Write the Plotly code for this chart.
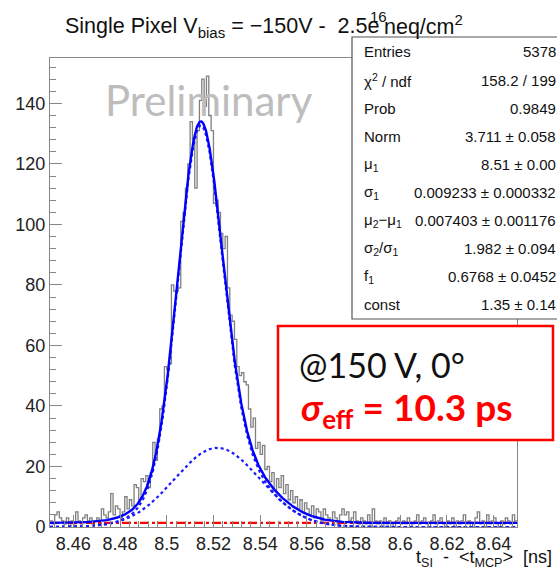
import numpy as np
import plotly.graph_objects as go

# ---- histogram: counts per 1 ps bin, 8.45 .. 8.65 ns ----
x_lo, x_hi, n_bins = 8.45, 8.65, 200
counts = [
    2, 1, 4, 5, 3, 2, 1, 3, 0, 2,
    1, 5, 2, 1, 3, 4, 2, 3, 1, 2,
    3, 2, 6, 4, 3, 5, 11, 4, 7, 6,
    3, 5, 10, 6, 9, 7, 14, 13, 9, 16,
    15, 17, 13, 18, 28, 22, 29, 39, 40, 53,
    52, 54, 80, 78, 78, 79, 101, 104, 112, 120,
    134, 128, 112, 131, 141, 148, 139, 149, 136, 131,
    107, 108, 104, 97, 92, 96, 79, 70, 68, 62,
    53, 50, 51, 48, 47, 39, 33, 36, 26, 28,
    24, 27, 19, 20, 15, 18, 12, 16, 13, 17,
    11, 14, 9, 12, 8, 10, 6, 9, 5, 8,
    6, 4, 7, 3, 6, 5, 2, 6, 4, 3,
    2, 5, 3, 1, 4, 6, 4, 5, 2, 3,
    5, 2, 1, 3, 2, 1, 4, 0, 6, 2,
    1, 2, 0, 3, 1, 2, 1, 0, 2, 3,
    1, 2, 1, 3, 0, 1, 2, 4, 1, 2,
    3, 1, 0, 2, 4, 1, 2, 3, 1, 0,
    2, 1, 3, 0, 2, 1, 2, 4, 1, 2,
    0, 1, 3, 5, 1, 2, 0, 4, 1, 2,
    3, 1, 0, 2, 1, 3, 2, 1, 4, 2,
]

# ---- double-Gaussian fit parameters (value, error) ----
entries = 5378
chi2, ndf, prob = 158.2, 199, 0.9849
norm, norm_err = 3.711, 0.058
mu1, mu1_err = 8.5142, 0.0004
sigma1, sigma1_err = 0.009233, 0.000332
dmu, dmu_err = 0.007403, 0.001176
ratio, ratio_err = 1.982, 0.094
f1, f1_err = 0.6768, 0.0452
const, const_err = 1.35, 0.14

# title pieces (the exponent is set over the "e", TLatex style)
title_left = "Single Pixel V<sub>bias</sub> = \u2212150V -  2.5e"
title_exp = "16"
title_right = "neq/cm<sup>2</sup>"
xaxis_text = "t<sub>SI</sub>  -  &lt;t<sub>MCP</sub>&gt;  [ns]"
result_line1 = "@150 V, 0\u00b0"
result_line2 = "<b><i>\u03c3</i><sub>eff</sub> = 10.3 ps</b>"
watermark = "Preliminary"


def gauss(x, mu, sig):
    return np.exp(-0.5 * ((x - mu) / sig) ** 2) / (sig * np.sqrt(2 * np.pi))


xs = np.linspace(x_lo, x_hi, 1601)
mu2 = mu1 + dmu
sigma2 = sigma1 * ratio
comp1 = norm * f1 * gauss(xs, mu1, sigma1)
comp2 = norm * (1 - f1) * gauss(xs, mu2, sigma2)
signal = comp1 + comp2
total = signal + const

edges = np.linspace(x_lo, x_hi, n_bins + 1)
step_y = list(counts) + [counts[-1]]

fig = go.Figure()
fig.add_trace(go.Scatter(x=edges, y=step_y, mode="lines", line_shape="hv",
                         line=dict(color="#808080", width=1.3), hoverinfo="skip"))
fig.add_trace(go.Scatter(x=xs, y=np.full_like(xs, const), mode="lines",
                         line=dict(color="#ff0000", width=2.2, dash="dashdot")))
fig.add_trace(go.Scatter(x=xs, y=signal, mode="lines",
                         line=dict(color="#1a1aff", width=2.2, dash="dot")))
fig.add_trace(go.Scatter(x=xs, y=comp2, mode="lines",
                         line=dict(color="#1a1aff", width=2.2, dash="dot")))
fig.add_trace(go.Scatter(x=xs, y=total, mode="lines",
                         line=dict(color="#0000ff", width=2.4)))

W, H = 557, 572
L, R, T, B = 50, 40, 58, 45


def px(x):
    return (x - L) / (W - L - R)


def py(y):
    return (H - B - y) / (H - T - B)


title_font = dict(family="Liberation Sans", size=21.5, color="#111")
ann = []
# title
ann.append(dict(text=title_left, x=px(381), y=py(12), xanchor="right", yanchor="top",
                font=title_font))
ann.append(dict(text=title_right, x=px(382), y=py(25), xanchor="left", yanchor="middle",
                font=title_font))
ann.append(dict(text=title_exp, x=px(378), y=py(17), xanchor="center", yanchor="middle",
                font=dict(family="Liberation Sans", size=15, color="#111")))
# x axis title
ann.append(dict(text=xaxis_text, x=px(554), y=py(545), xanchor="right", yanchor="top",
                font=dict(family="Liberation Sans", size=18, color="#111")))
# watermark
ann.append(dict(text=watermark, x=px(209), y=py(100), xanchor="center", yanchor="middle",
                font=dict(family="Lato", size=42, color="#bdbdbd")))

# stats box rows
stats_rows = [
    ("Entries", f"{entries}"),
    ("\u03c7<sup>2</sup> / ndf", f"{chi2:.1f} / {ndf}"),
    ("Prob", f"{prob:.4f}"),
    ("Norm", f"{norm:.3f} \u00b1 {norm_err:.3f}"),
    ("\u03bc<sub>1</sub>", f"{mu1:.2f} \u00b1 {mu1_err:.2f}"),
    ("\u03c3<sub>1</sub>", f"{sigma1:.6f} \u00b1 {sigma1_err:.6f}"),
    ("\u03bc<sub>2</sub>\u2212\u03bc<sub>1</sub>", f"{dmu:.6f} \u00b1 {dmu_err:.6f}"),
    ("\u03c3<sub>2</sub>/\u03c3<sub>1</sub>", f"{ratio:.3f} \u00b1 {ratio_err:.3f}"),
    ("f<sub>1</sub>", f"{f1:.4f} \u00b1 {f1_err:.4f}"),
    ("const", f"{const:.2f} \u00b1 {const_err:.2f}"),
]
row0, row_step = 52, 28.1
for k, (lab, val) in enumerate(stats_rows):
    yy = row0 + k * row_step
    ann.append(dict(text=lab, x=px(362), y=py(yy), xanchor="left", yanchor="middle",
                    font=dict(family="Liberation Sans", size=15, color="#111")))
    ann.append(dict(text=val, x=px(558), y=py(yy), xanchor="right", yanchor="middle",
                    font=dict(family="Liberation Sans", size=15, color="#111")))

# result box text
ann.append(dict(text=result_line1, x=px(297), y=py(364), xanchor="left", yanchor="middle",
                font=dict(family="Lato", size=34, color="#111")))
ann.append(dict(text=result_line2, x=px(299), y=py(409), xanchor="left", yanchor="middle",
                font=dict(family="Lato", size=37, color="#ff0000")))
for a in ann:
    a.update(xref="paper", yref="paper", showarrow=False)

shapes = [
    dict(type="rect", xref="paper", yref="paper", x0=px(352), x1=px(565),
         y0=py(319), y1=py(37), line=dict(color="#555", width=1.2), fillcolor="white",
         layer="above"),
    dict(type="rect", xref="paper", yref="paper", x0=px(278), x1=px(553),
         y0=py(440), y1=py(326), line=dict(color="#ff0000", width=2.5), fillcolor="white",
         layer="above"),
]

fig.update_layout(
    width=W, height=H, margin=dict(l=L, r=R, t=T, b=B),
    paper_bgcolor="white", plot_bgcolor="white", showlegend=False,
    annotations=ann, shapes=shapes,
    font=dict(family="Liberation Sans", size=18, color="#222"),
)
fig.update_xaxes(range=[x_lo, x_hi], tick0=8.46, dtick=0.02, ticks="inside", ticklen=12,
                 tickcolor="#888", showline=True, linecolor="#888", mirror=True,
                 showgrid=False, zeroline=False,
                 minor=dict(ticks="inside", ticklen=6, dtick=0.004, tickcolor="#888"))
fig.update_yaxes(range=[0, 155], dtick=20, ticks="inside", ticklen=12,
                 tickcolor="#888", showline=True, linecolor="#888", mirror=True,
                 showgrid=False, zeroline=False,
                 minor=dict(ticks="inside", ticklen=6, dtick=4, tickcolor="#888"))

fig.write_html("out.html")
